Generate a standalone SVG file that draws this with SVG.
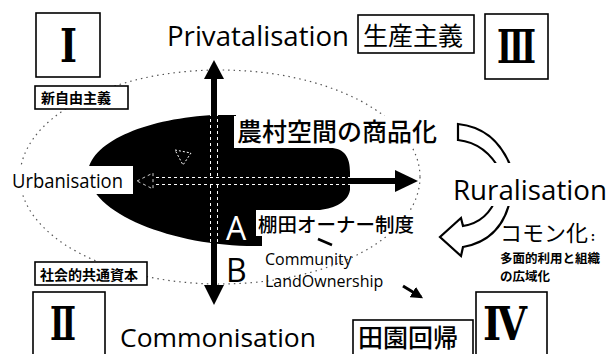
<svg xmlns="http://www.w3.org/2000/svg" width="612" height="354" viewBox="0 0 612 354">
<style>
.box{fill:#fff;stroke:#000;stroke-width:1.6}
.lbl{fill:#fff;stroke:none}
.jp{font-family:"Noto Sans CJK JP",sans-serif;fill:#000}
.en{font-family:"Open Sans","Liberation Sans",sans-serif;fill:#000}
.rn{font-family:"DejaVu Serif","Liberation Serif",serif;font-weight:bold;fill:#000}
.ell{fill:none;stroke:#555;stroke-width:1.2;stroke-dasharray:1.5 4}
.hollow{fill:#fff;stroke:#000;stroke-width:2.2;stroke-linejoin:miter}
</style>
<defs>
<marker id="ah" viewBox="0 0 10 10" refX="8" refY="5" markerWidth="4" markerHeight="4" orient="auto">
<path d="M0,0 L10,5 L0,10 Z" fill="#000"/>
</marker>
</defs>
<rect width="612" height="354" fill="#fff"/>

<g id="field">
<ellipse class="ell" cx="220" cy="177" rx="200" ry="107"/>
<path id="blob" d="M88,172 C92,140 150,118 215,115 L236,115 L236,148 L330,148 C345,148 350,158 350,172 L350,190 C348,202 335,208 320,210 L262,212 L262,246 C180,248 88,215 88,172 Z" fill="#000"/>
<polygon points="175,150 191,153 183,165" fill="none" stroke="#fff" stroke-width="1" stroke-dasharray="2 2"/>
</g>

<g id="connectors">
<line x1="214" y1="77" x2="214" y2="286" stroke="#fff" stroke-width="8" stroke-dasharray="3 3"/>
<line x1="214" y1="77" x2="214" y2="286" stroke="#000" stroke-width="6"/>
<polygon points="204,79 214,60 224,79" fill="#000"/>
<polygon points="204,285 214,305 224,285" fill="#000"/>
<line x1="150" y1="181" x2="396" y2="181" stroke="#fff" stroke-width="8" stroke-dasharray="3 3"/>
<line x1="150" y1="181" x2="396" y2="181" stroke="#000" stroke-width="6"/>
<polygon points="137,181 153,173 153,189" fill="#000" stroke="#fff" stroke-width="0.8" stroke-dasharray="3 3"/>
<polygon points="395,170 418,181 395,192" fill="#000"/>
<path class="hollow" d="M512,170 Q497,128 458,124 L458,140 Q486,143 501,172"/>
<path class="hollow" d="M497,196 Q488,222 463,226 L461,218 L440,237 L461,256 L463,247 Q503,240 511,196"/>
<line x1="403" y1="286" x2="421" y2="297" stroke="#000" stroke-width="3" marker-end="url(#ah)"/>
<line x1="318" y1="239" x2="332" y2="245" stroke="#000" stroke-width="2.5"/>
</g>

<g id="n-I">
<rect class="box" x="36" y="13" width="64" height="64"/>
<text class="rn" x="60" y="62" font-size="46" textLength="17" lengthAdjust="spacingAndGlyphs">Ⅰ</text>
</g>
<g id="n-shinjiyu">
<rect class="box" x="35" y="86" width="93" height="23"/>
<text class="jp" x="41" y="103" font-size="14" font-weight="bold">新自由主義</text>
</g>
<g id="n-privatalisation">
<text class="en" x="167" y="46" font-size="27" textLength="182" lengthAdjust="spacingAndGlyphs">Privatalisation</text>
</g>
<g id="n-seisan">
<rect class="box" x="358" y="15" width="116" height="38"/>
<text class="jp" x="363" y="45" font-size="25">生産主義</text>
</g>
<g id="n-III">
<rect class="box" x="485" y="14" width="63" height="65"/>
<text class="rn" x="497" y="63" font-size="46" textLength="39" lengthAdjust="spacingAndGlyphs">Ⅲ</text>
</g>
<g id="n-shohinka">
<rect class="lbl" x="234" y="116" width="212" height="32"/>
<text class="jp" x="237" y="141" font-size="25" font-weight="500">農村空間の商品化</text>
</g>
<g id="n-urbanisation">
<rect class="lbl" x="0" y="166" width="133" height="28"/>
<text class="en" x="12" y="188" font-size="20" textLength="111" lengthAdjust="spacingAndGlyphs">Urbanisation</text>
</g>
<g id="n-ruralisation">
<rect class="lbl" x="448" y="163" width="164" height="43"/>
<text class="en" x="453" y="200" font-size="27" textLength="154" lengthAdjust="spacingAndGlyphs">Ruralisation</text>
</g>
<g id="n-A">
<text class="en" x="226" y="240" font-size="32" style="fill:#fff">A</text>
</g>
<g id="n-tanada">
<rect class="lbl" x="256" y="210" width="164" height="26"/>
<text class="jp" x="258" y="232" font-size="19.5" font-weight="500">棚田オーナー制度</text>
</g>
<g id="n-B">
<text class="en" x="226" y="282" font-size="32">B</text>
</g>
<g id="n-community">
<text class="en" x="265" y="265" font-size="16">Community</text>
<text class="en" x="265" y="287" font-size="16">LandOwnership</text>
</g>
<g id="n-commonka">
<text class="jp" x="500" y="241" font-size="22">コモン化<tspan font-size="12" font-weight="bold" dx="3">:</tspan></text>
<text class="jp" x="500" y="263" font-size="12.5" font-weight="bold">多面的利用と組織</text>
<text class="jp" x="500" y="281" font-size="12.5" font-weight="bold">の広域化</text>
</g>
<g id="n-shakai">
<rect class="box" x="35" y="262" width="112" height="23"/>
<text class="jp" x="40" y="280" font-size="14" font-weight="bold">社会的共通資本</text>
</g>
<g id="n-II">
<rect class="box" x="33" y="292" width="72" height="70"/>
<text class="rn" x="50" y="340" font-size="46" textLength="26" lengthAdjust="spacingAndGlyphs">Ⅱ</text>
</g>
<g id="n-commonisation">
<text class="en" x="120" y="347" font-size="26" textLength="196" lengthAdjust="spacingAndGlyphs">Commonisation</text>
</g>
<g id="n-denen">
<rect class="box" x="353" y="320" width="120" height="42"/>
<text class="jp" x="358" y="347" font-size="25" font-weight="500">田園回帰</text>
</g>
<g id="n-IV">
<rect class="box" x="476" y="292" width="71" height="70"/>
<text class="rn" x="483" y="340" font-size="46" textLength="44" lengthAdjust="spacingAndGlyphs">Ⅳ</text>
</g>
</svg>
